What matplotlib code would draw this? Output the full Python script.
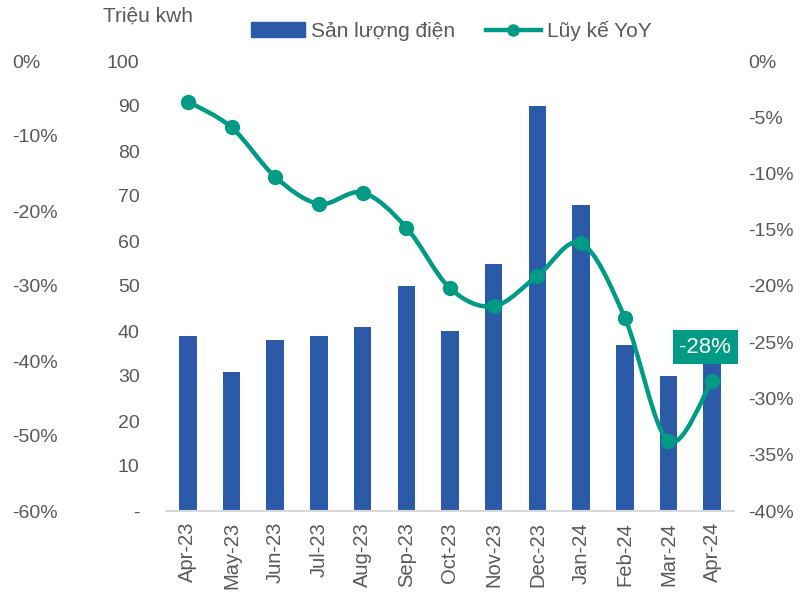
import numpy as np
import matplotlib.pyplot as plt
from matplotlib.path import Path
from matplotlib.patches import PathPatch
from matplotlib.lines import Line2D
from matplotlib.patches import Patch
from matplotlib.ticker import FuncFormatter

months = ['Apr-23', 'May-23', 'Jun-23', 'Jul-23', 'Aug-23', 'Sep-23', 'Oct-23',
          'Nov-23', 'Dec-23', 'Jan-24', 'Feb-24', 'Mar-24', 'Apr-24']
san_luong = [39, 31, 38, 39, 41, 50, 40, 55, 90, 68, 37, 30, 33]
yoy = [-3.6, -5.9, -10.3, -12.7, -11.7, -14.8, -20.2, -21.8, -19.1, -16.2, -22.8, -33.8, -28.4]

BAR = '#2B5BA8'
GREEN = '#009B84'
GREY = '#595959'
plt.rcParams['font.family'] = ['Liberation Sans', 'DejaVu Sans']

fig = plt.figure(figsize=(8.12, 5.99), dpi=100)
ax = fig.add_axes([166/812, 1-511/599, (734-166)/812, 450/599])
x = np.arange(len(months))

ax.bar(x, san_luong, width=0.4, color=BAR, zorder=2)
ax.set_xlim(-0.5, len(months) - 0.5)
ax.set_ylim(0, 100)
ax.set_yticks(range(0, 101, 10))
ax.yaxis.set_major_formatter(FuncFormatter(lambda v, p: '-' if v == 0 else '%d' % v))
ax.set_xticks(x)
ax.set_xticklabels(months, rotation=90)
ax.tick_params(axis='y', length=0, pad=19, labelsize=14, labelcolor=GREY)
ax.tick_params(axis='x', length=0, pad=8, labelsize=14.5, labelcolor=GREY)
for s in ['top', 'right', 'left']:
    ax.spines[s].set_visible(False)
ax.spines['bottom'].set_color('#D9D9D9')
ax.spines['bottom'].set_linewidth(1.5)

# right axis: YoY
ax2 = ax.twinx()
ax2.set_ylim(-40, 0)
ax2.set_yticks(range(-40, 1, 5))
ax2.yaxis.set_major_formatter(FuncFormatter(lambda v, p: '%d%%' % v))
ax2.tick_params(axis='y', length=0, pad=10, labelsize=14, labelcolor=GREY)
for s in ax2.spines.values():
    s.set_visible(False)

# smoothed line (Catmull-Rom -> bezier)
pts = np.column_stack([x, yoy]).astype(float)
verts = [tuple(pts[0])]
codes = [Path.MOVETO]
for i in range(len(pts) - 1):
    p0 = pts[i - 1] if i > 0 else pts[i]
    p1, p2 = pts[i], pts[i + 1]
    p3 = pts[i + 2] if i + 2 < len(pts) else pts[i + 1]
    c1 = p1 + (p2 - p0) / 6
    c2 = p2 - (p3 - p1) / 6
    verts += [tuple(c1), tuple(c2), tuple(p2)]
    codes += [Path.CURVE4] * 3
ax2.add_patch(PathPatch(Path(verts, codes), fill=False, edgecolor=GREEN, lw=3.2,
                        capstyle='round', zorder=3))
ax2.plot(x, yoy, 'o', color=GREEN, ms=10, zorder=4)
ax2.annotate('%d%%' % round(yoy[-1]), (x[-1], yoy[-1]), xytext=(-5, 24),
             textcoords='offset points', ha='center', va='center', color='white',
             fontsize=16, bbox=dict(boxstyle='square,pad=0.3', fc=GREEN, ec='none'),
             zorder=5)

# far left axis
far_ticks = list(range(-60, 1, 10))
ax3 = ax.twinx()
ax3.set_ylim(-60, 0)
ax3.yaxis.tick_left()
ax3.set_yticks(far_ticks)
ax3.yaxis.set_major_formatter(FuncFormatter(lambda v, p: '%d%%' % v))
ax3.tick_params(axis='y', length=0, pad=111, labelsize=14, labelcolor=GREY)
for lab in ax3.get_yticklabels():
    lab.set_horizontalalignment('left')
for s in ax3.spines.values():
    s.set_visible(False)

fig.text(148/812, 1-16/599, 'Triệu kwh', ha='center', va='center', fontsize=15, color=GREY)

handles = [Patch(color=BAR), Line2D([0], [0], color=GREEN, lw=3.2, marker='o', ms=8)]
fig.legend(handles, ['Sản lượng điện', 'Lũy kế YoY'], loc='center', ncol=2,
           bbox_to_anchor=(451/812, 1-31/599), frameon=False, fontsize=15,
           labelcolor=GREY, handlelength=2.6, handletextpad=0.3, columnspacing=1.5)

fig.savefig('out.png', dpi=100)
